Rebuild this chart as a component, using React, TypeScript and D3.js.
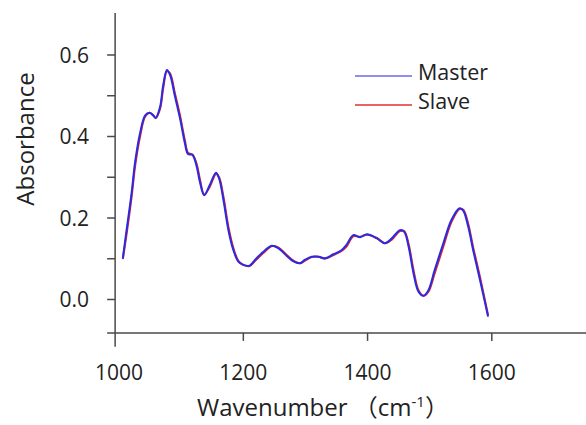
import React, { useEffect, useRef } from "react";
import * as d3 from "d3";

// wavenumber (cm-1) of each sampled point
const wavenumbers = [
  1006, 1012, 1020, 1026, 1034, 1042, 1049, 1054, 1059, 1066, 1071, 1077, 1082,
  1090, 1098, 1106, 1111, 1118, 1125, 1130, 1137, 1146, 1156, 1161, 1168, 1176,
  1184, 1192, 1200, 1210, 1221, 1235, 1246, 1256, 1270, 1280, 1291, 1299, 1310,
  1321, 1331, 1345, 1358, 1366, 1377, 1388, 1399, 1415, 1428, 1439, 1452, 1459,
  1466, 1474, 1482, 1490, 1498, 1508, 1522, 1535, 1548, 1554, 1562, 1570, 1581,
  1594,
];

const master = [
  0.101, 0.17, 0.26, 0.34, 0.41, 0.452, 0.458, 0.453, 0.446, 0.473, 0.526,
  0.563, 0.551, 0.498, 0.445, 0.383, 0.357, 0.355, 0.326, 0.289, 0.256, 0.281,
  0.311, 0.297, 0.244, 0.17, 0.121, 0.093, 0.085, 0.083, 0.101, 0.121, 0.132,
  0.126, 0.107, 0.094, 0.089, 0.097, 0.105, 0.105, 0.101, 0.111, 0.121, 0.134,
  0.158, 0.153, 0.16, 0.15, 0.138, 0.15, 0.17, 0.166, 0.13, 0.064, 0.019,
  0.009, 0.023, 0.072, 0.138, 0.195, 0.224, 0.218, 0.179, 0.121, 0.048, -0.042,
];

const slave = [
  0.099, 0.16, 0.25, 0.33, 0.402, 0.449, 0.458, 0.454, 0.445, 0.468, 0.518,
  0.56, 0.555, 0.505, 0.452, 0.39, 0.36, 0.356, 0.332, 0.296, 0.258, 0.277,
  0.308, 0.3, 0.252, 0.178, 0.126, 0.095, 0.085, 0.082, 0.098, 0.118, 0.131,
  0.128, 0.109, 0.096, 0.089, 0.095, 0.104, 0.105, 0.1, 0.109, 0.119, 0.13,
  0.155, 0.154, 0.159, 0.151, 0.138, 0.147, 0.168, 0.168, 0.137, 0.072, 0.023,
  0.009, 0.019, 0.064, 0.13, 0.19, 0.222, 0.22, 0.186, 0.128, 0.055, -0.038,
];

const xTicks = [1000, 1200, 1400, 1600];
const yTicks = [0, 0.1, 0.2, 0.3, 0.4, 0.5, 0.6];
const yLabels = [0, 0.2, 0.4, 0.6];

const series = [
  { name: "Slave", values: slave, color: "#e02626" },
  { name: "Master", values: master, color: "#2a2ae6" },
];
const legendItems = [
  { name: "Master", color: "#6a6ae6" },
  { name: "Slave", color: "#e03030" },
];

const App = () => {
  const svgRef = useRef<SVGSVGElement>(null);

  useEffect(() => {
    const width = 586;
    const height = 425;
    const font = "'Open Sans', 'Noto Sans CJK JP', sans-serif";
    const axisColor = "#4a4a4a";

    const x = d3.scaleLinear([1000, 1600], [119.1, 491.8]);
    const y = d3.scaleLinear([0, 0.6], [299.5, 55]);
    const xAxisY = y(-0.082);
    const yAxisX = x(993.6);

    const svg = d3.select(svgRef.current);
    svg.selectAll("*").remove();
    svg.attr("width", width).attr("height", height);

    // axes
    const axes = svg.append("g").attr("stroke", axisColor).attr("stroke-width", 1.5);
    axes
      .append("line")
      .attr("x1", yAxisX)
      .attr("x2", yAxisX)
      .attr("y1", y(0.703))
      .attr("y2", y(-0.116));
    axes
      .append("line")
      .attr("x1", yAxisX - 8)
      .attr("x2", width)
      .attr("y1", xAxisY)
      .attr("y2", xAxisY);

    axes
      .selectAll(".ytick")
      .data(yTicks)
      .join("line")
      .attr("x1", yAxisX - 8)
      .attr("x2", yAxisX)
      .attr("y1", (d) => y(d))
      .attr("y2", (d) => y(d));

    axes
      .selectAll(".xtick")
      .data(xTicks.slice(1))
      .join("line")
      .attr("x1", (d) => x(d))
      .attr("x2", (d) => x(d))
      .attr("y1", xAxisY)
      .attr("y2", xAxisY + 8);

    // tick labels
    svg
      .append("g")
      .selectAll("text")
      .data(yLabels)
      .join("text")
      .attr("x", 89)
      .attr("y", (d) => y(d))
      .attr("dy", "0.36em")
      .attr("text-anchor", "end")
      .attr("font-family", font)
      .attr("font-size", 21)
      .attr("fill", "#222")
      .text((d) => d3.format(".1f")(d));

    svg
      .append("g")
      .selectAll("text")
      .data(xTicks)
      .join("text")
      .attr("x", (d) => x(d))
      .attr("y", 380)
      .attr("text-anchor", "middle")
      .attr("font-family", font)
      .attr("font-size", 21)
      .attr("fill", "#222")
      .text((d) => d);

    // axis titles
    svg
      .append("text")
      .attr("transform", "translate(34,139) rotate(-90)")
      .attr("text-anchor", "middle")
      .attr("font-family", font)
      .attr("font-size", 24)
      .attr("fill", "#222")
      .text("Absorbance");

    const xTitle = svg
      .append("text")
      .attr("x", 197)
      .attr("y", 416)
      .attr("font-family", font)
      .attr("font-size", 24)
      .attr("fill", "#222");
    xTitle.append("tspan").text("Wavenumber （cm");
    xTitle.append("tspan").attr("dy", -9).attr("font-size", 15).text("-1");
    xTitle.append("tspan").attr("dy", 9).text("）");

    // spectra
    const line = d3
      .line<number>()
      .curve(d3.curveCatmullRom.alpha(0.5))
      .x((_, i) => x(wavenumbers[i]))
      .y((d) => y(d));

    svg
      .append("g")
      .selectAll("path")
      .data(series)
      .join("path")
      .attr("fill", "none")
      .attr("stroke", (d) => d.color)
      .attr("stroke-width", 2)
      .attr("d", (d) => line(d.values));

    // legend
    const legend = svg
      .append("g")
      .selectAll("g")
      .data(legendItems)
      .join("g")
      .attr("transform", (_, i) => `translate(355,${76 + i * 29})`);
    legend
      .append("line")
      .attr("x1", 0)
      .attr("x2", 57)
      .attr("stroke", (d) => d.color)
      .attr("stroke-width", 1.6);
    legend
      .append("text")
      .attr("x", 63)
      .attr("y", 4)
      .attr("font-family", font)
      .attr("font-size", 21.5)
      .attr("fill", "#222")
      .text((d) => d.name);
  }, []);

  return (
    <svg
      ref={svgRef}
      style={{ position: "absolute", left: 0, top: 0, background: "#fff" }}
    />
  );
};

export default App;
